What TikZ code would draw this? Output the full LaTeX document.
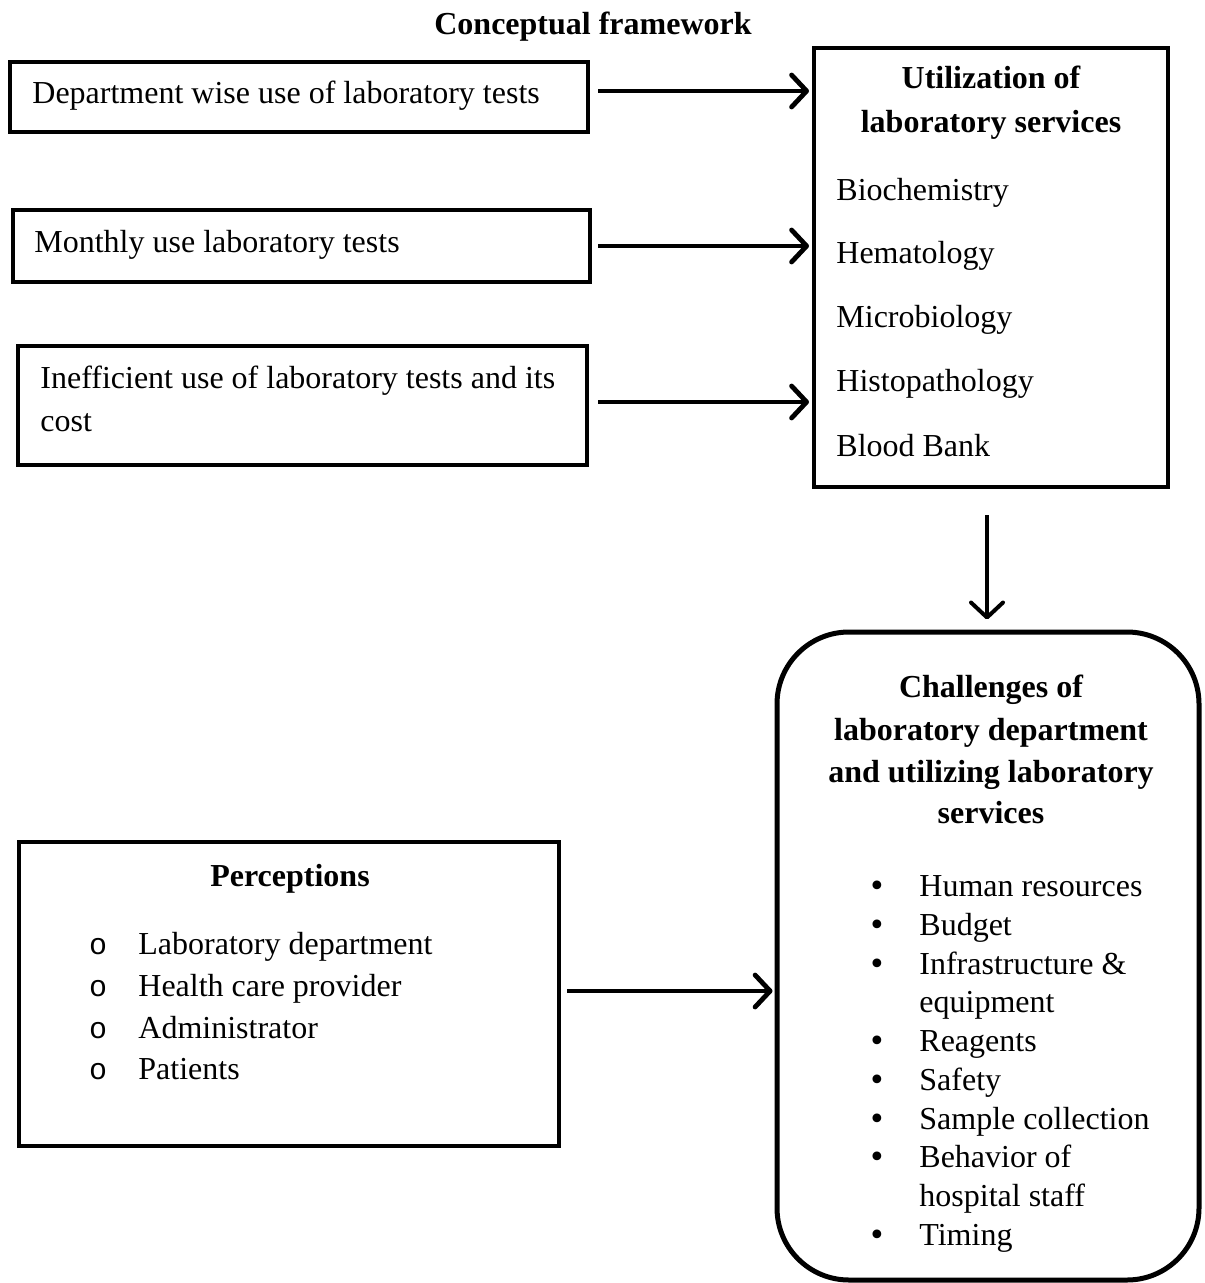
\documentclass[tikz,border=0pt]{standalone}
\usepackage{fontspec}
\setmainfont{Liberation Serif}
\newfontfamily\ringfont{Liberation Mono}
\newfontfamily\dotfont{DejaVu Sans}
\usetikzlibrary{arrows.meta}
\tikzset{
  box/.style={draw, line width=2.2pt, inner sep=0pt},
  txt/.style={anchor=base west, inner sep=0pt, font=\fontsize{16}{19}\selectfont},
  hdr/.style={anchor=base, inner sep=0pt, font=\bfseries\fontsize{16}{19}\selectfont},
  dot/.style={anchor=base, inner sep=0pt, font=\dotfont\fontsize{15}{18}\selectfont},
  ring/.style={anchor=base, inner sep=0pt, font=\ringfont\fontsize{15}{18}\selectfont},
  arr/.style={line width=2.4pt, -{Straight Barb[length=7.5pt,width=16pt,round]}},
}
\begin{document}
\begin{tikzpicture}[x=0.5pt, y=-0.5pt]
\useasboundingbox (0,0) rectangle (1204,1283);
\node[hdr] (title) at (593,35) {Conceptual framework};

% left boxes
\node[box, minimum width=289pt, minimum height=35pt] (dept) at (299,97) {};
\node[txt] (dept1) at (32,104) {Department wise use of laboratory tests};
\node[box, minimum width=288.5pt, minimum height=36pt] (month) at (301.5,246) {};
\node[txt] (month1) at (34,253) {Monthly use laboratory tests};
\node[box, minimum width=284.5pt, minimum height=59.5pt] (ineff) at (302.5,405.5) {};
\node[txt] (ineff1) at (40,388) {Inefficient use of laboratory tests and its};
\node[txt] (ineff2) at (40,431) {cost};

% utilization box
\node[box, line width=2pt, minimum width=177pt, minimum height=219.5pt] (util) at (991,267.5) {};
\node[hdr] (util1) at (991,89) {Utilization of};
\node[hdr] (util2) at (991,133) {laboratory services};
\node[txt] (biochem) at (836,201) {Biochemistry};
\node[txt] (hemat) at (836,264) {Hematology};
\node[txt] (micro) at (836,328) {Microbiology};
\node[txt] (histo) at (836,391) {Histopathology};
\node[txt] (blood) at (836,456) {Blood Bank};

\coordinate (s1) at (598,91);
\coordinate (s2) at (598,246);
\coordinate (s3) at (598,402);
\draw[arr, shorten >=1.5pt] (s1) -- (s1 -| util.west);
\draw[arr, shorten >=1.5pt] (s2) -- (s2 -| util.west);
\draw[arr, shorten >=1.5pt] (s3) -- (s3 -| util.west);

% challenges box
\node[box, line width=2.5pt, rounded corners=36pt, minimum width=211pt, minimum height=324pt] (chal) at (988,956) {};
\node[hdr] (chal1) at (991,697) {Challenges of};
\node[hdr] (chal2) at (991,740) {laboratory department};
\node[hdr] (chal3) at (991,782) {and utilizing laboratory};
\node[hdr] (chal4) at (991,823) {services};
\node[dot] (b1) at (877,896) {•};
\node[txt] (c1) at (919,896) {Human resources};
\node[dot] (b2) at (877,935) {•};
\node[txt] (c2) at (919,935) {Budget};
\node[dot] (b3) at (877,974) {•};
\node[txt] (c3) at (919,974) {Infrastructure \&};
\node[txt] (c3b) at (919,1012) {equipment};
\node[dot] (b4) at (877,1051) {•};
\node[txt] (c4) at (919,1051) {Reagents};
\node[dot] (b5) at (877,1090) {•};
\node[txt] (c5) at (919,1090) {Safety};
\node[dot] (b6) at (877,1129) {•};
\node[txt] (c6) at (919,1129) {Sample collection};
\node[dot] (b7) at (877,1167) {•};
\node[txt] (c7) at (919,1167) {Behavior of};
\node[txt] (c7b) at (919,1206) {hospital staff};
\node[dot] (b8) at (877,1245) {•};
\node[txt] (c8) at (919,1245) {Timing};

\coordinate (s4) at (987,515);
\draw[arr, line width=2pt, shorten >=5pt] (s4) -- (s4 |- chal.north);

% perceptions box
\node[box, line width=1.9pt, minimum width=270pt, minimum height=152pt] (perc) at (289,994) {};
\node[hdr] (perc1) at (290,886) {Perceptions};
\node[ring] (r1) at (98,954) {o};
\node[txt] (p1) at (138,954) {Laboratory department};
\node[ring] (r2) at (98,996) {o};
\node[txt] (p2) at (138,996) {Health care provider};
\node[ring] (r3) at (98,1038) {o};
\node[txt] (p3) at (138,1038) {Administrator};
\node[ring] (r4) at (98,1079) {o};
\node[txt] (p4) at (138,1079) {Patients};

\coordinate (s5) at (567,991);
\draw[arr, shorten >=1pt] (s5) -- (s5 -| chal.west);
\end{tikzpicture}
\end{document}
